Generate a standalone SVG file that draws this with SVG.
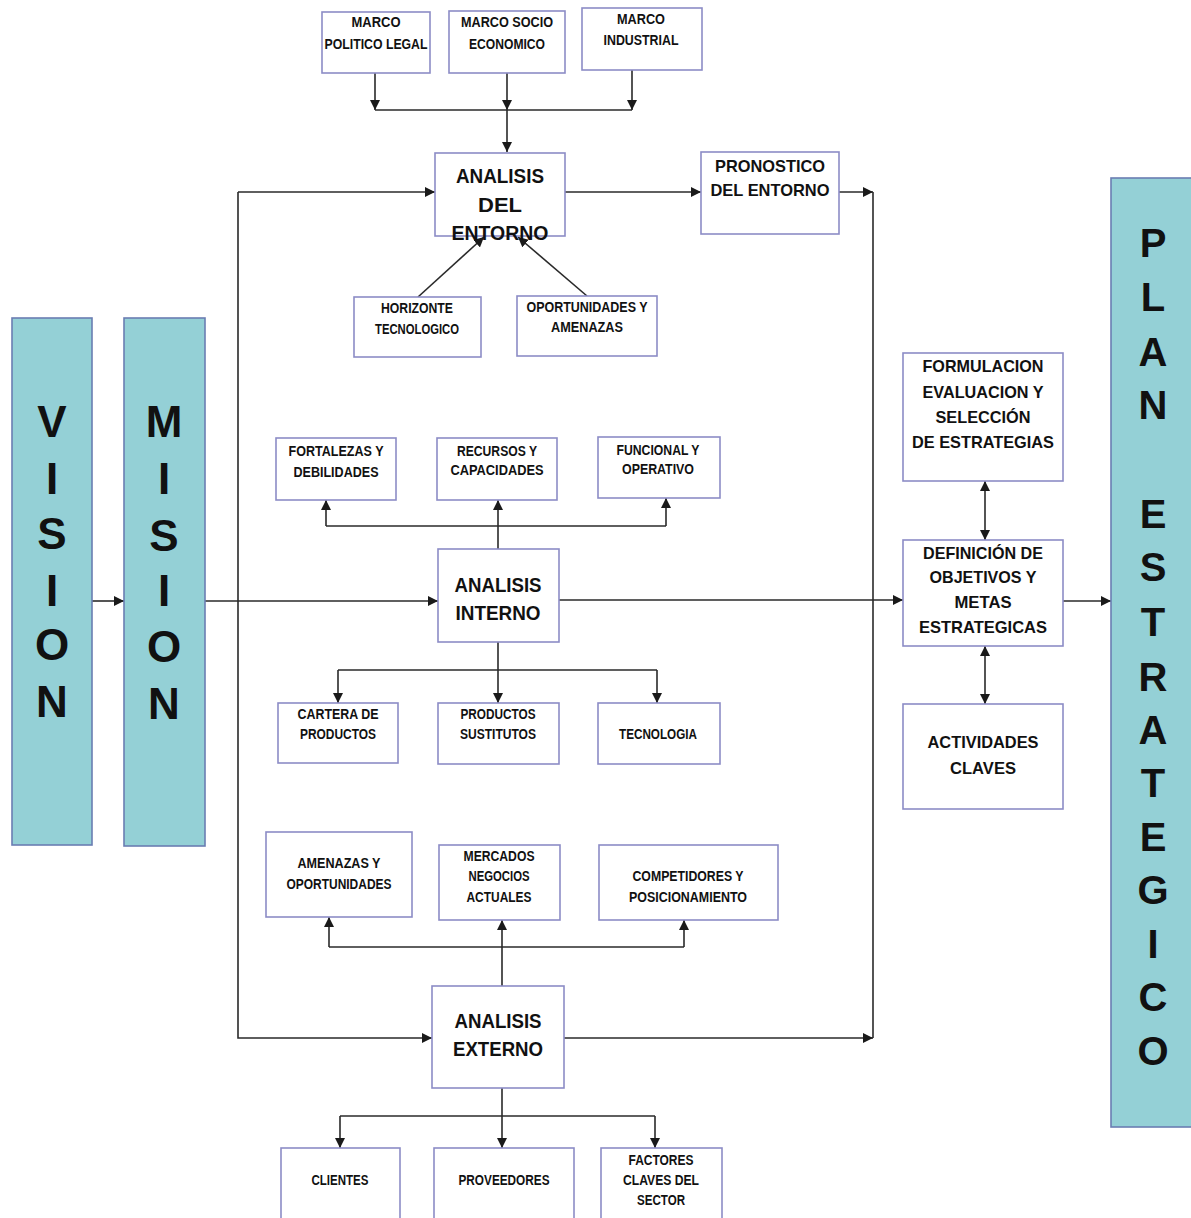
<svg xmlns="http://www.w3.org/2000/svg" width="1191" height="1218" viewBox="0 0 1191 1218">
<style>
.box{fill:#fff;stroke:#8c8cc6;stroke-width:1.6}
.col{fill:#94d0d6;stroke:#6a7db2;stroke-width:1.6}
text{font-family:"Liberation Sans",Arial,sans-serif;font-weight:bold;fill:#111;text-anchor:middle}
.sm{font-size:14px}
.md{font-size:17px}
.lg{font-size:21px}
.vl{font-size:44px}
.pl{font-size:40px}
.cn{fill:none;stroke:#2a2a2a;stroke-width:1.6}
</style>
<defs>
<marker id="ah" markerUnits="userSpaceOnUse" markerWidth="10" markerHeight="10" viewBox="0 0 10 10" refX="10" refY="5" orient="auto-start-reverse">
<path d="M0,0 L10,5 L0,10 z" fill="#1a1a1a"/>
</marker>
</defs>
<rect width="1191" height="1218" fill="#fff"/>

<g id="connectors">
<path class="cn" d="M375,73 V110" marker-end="url(#ah)"/>
<path class="cn" d="M632,70 V110" marker-end="url(#ah)"/>
<path class="cn" d="M507,73 V110" marker-end="url(#ah)"/>
<path class="cn" d="M375,110 H632"/>
<path class="cn" d="M507,110 V152" marker-end="url(#ah)"/>
<path class="cn" d="M238,192 H435" marker-end="url(#ah)"/>
<path class="cn" d="M238,192 V1038 H432" marker-end="url(#ah)"/>
<path class="cn" d="M92,601 H124" marker-end="url(#ah)"/>
<path class="cn" d="M205,601 H438" marker-end="url(#ah)"/>
<path class="cn" d="M565,192 H701" marker-end="url(#ah)"/>
<path class="cn" d="M839,192 H873" marker-end="url(#ah)"/>
<path class="cn" d="M873,192 V1038"/>
<path class="cn" d="M564,1038 H873" marker-end="url(#ah)"/>
<path class="cn" d="M559,600 H903" marker-end="url(#ah)"/>
<path class="cn" d="M418,297 L484,237" marker-end="url(#ah)"/>
<path class="cn" d="M587,296 L518,237" marker-end="url(#ah)"/>
<path class="cn" d="M498,549 V526"/>
<path class="cn" d="M326,526 H666"/>
<path class="cn" d="M326,526 V500" marker-end="url(#ah)"/>
<path class="cn" d="M498,526 V500" marker-end="url(#ah)"/>
<path class="cn" d="M666,526 V498" marker-end="url(#ah)"/>
<path class="cn" d="M498,642 V670"/>
<path class="cn" d="M338,670 H657"/>
<path class="cn" d="M338,670 V703" marker-end="url(#ah)"/>
<path class="cn" d="M498,670 V703" marker-end="url(#ah)"/>
<path class="cn" d="M657,670 V703" marker-end="url(#ah)"/>
<path class="cn" d="M502,986 V947"/>
<path class="cn" d="M329,947 H684"/>
<path class="cn" d="M329,947 V917" marker-end="url(#ah)"/>
<path class="cn" d="M502,947 V920" marker-end="url(#ah)"/>
<path class="cn" d="M684,947 V920" marker-end="url(#ah)"/>
<path class="cn" d="M502,1088 V1116"/>
<path class="cn" d="M340,1116 H655"/>
<path class="cn" d="M340,1116 V1148" marker-end="url(#ah)"/>
<path class="cn" d="M502,1116 V1148" marker-end="url(#ah)"/>
<path class="cn" d="M655,1116 V1148" marker-end="url(#ah)"/>
<path class="cn" d="M985,481 V540" marker-start="url(#ah)" marker-end="url(#ah)"/>
<path class="cn" d="M985,646 V704" marker-start="url(#ah)" marker-end="url(#ah)"/>
<path class="cn" d="M1063,601 H1111" marker-end="url(#ah)"/>
</g>

<g id="marco-politico">
<rect class="box" x="322" y="12" width="108" height="61"/>
<text class="sm" x="376" y="27" textLength="49" lengthAdjust="spacingAndGlyphs">MARCO</text>
<text class="sm" x="376" y="49" textLength="103" lengthAdjust="spacingAndGlyphs">POLITICO LEGAL</text>
</g>
<g id="marco-socio">
<rect class="box" x="449" y="11" width="116" height="62"/>
<text class="sm" x="507" y="27" textLength="92" lengthAdjust="spacingAndGlyphs">MARCO SOCIO</text>
<text class="sm" x="507" y="49" textLength="76" lengthAdjust="spacingAndGlyphs">ECONOMICO</text>
</g>
<g id="marco-industrial">
<rect class="box" x="582" y="8" width="120" height="62"/>
<text class="sm" x="641" y="24" textLength="48" lengthAdjust="spacingAndGlyphs">MARCO</text>
<text class="sm" x="641" y="45" textLength="75" lengthAdjust="spacingAndGlyphs">INDUSTRIAL</text>
</g>
<g id="analisis-entorno">
<rect class="box" x="435" y="153" width="130" height="83"/>
<text class="lg" x="500" y="183" textLength="88" lengthAdjust="spacingAndGlyphs">ANALISIS</text>
<text class="lg" x="500" y="212" textLength="44" lengthAdjust="spacingAndGlyphs">DEL</text>
<text class="lg" x="500" y="240" textLength="97" lengthAdjust="spacingAndGlyphs">ENTORNO</text>
</g>
<g id="pronostico">
<rect class="box" x="701" y="152" width="138" height="82"/>
<text class="md" x="770" y="172" textLength="110" lengthAdjust="spacingAndGlyphs">PRONOSTICO</text>
<text class="md" x="770" y="196" textLength="119" lengthAdjust="spacingAndGlyphs">DEL ENTORNO</text>
</g>
<g id="horizonte">
<rect class="box" x="354" y="297" width="127" height="60"/>
<text class="sm" x="417" y="313" textLength="72" lengthAdjust="spacingAndGlyphs">HORIZONTE</text>
<text class="sm" x="417" y="334" textLength="84" lengthAdjust="spacingAndGlyphs">TECNOLOGICO</text>
</g>
<g id="oportunidades-amenazas">
<rect class="box" x="517" y="296" width="140" height="60"/>
<text class="sm" x="587" y="312" textLength="121" lengthAdjust="spacingAndGlyphs">OPORTUNIDADES Y</text>
<text class="sm" x="587" y="332" textLength="72" lengthAdjust="spacingAndGlyphs">AMENAZAS</text>
</g>
<g id="fortalezas">
<rect class="box" x="276" y="438" width="120" height="62"/>
<text class="sm" x="336" y="456" textLength="95" lengthAdjust="spacingAndGlyphs">FORTALEZAS Y</text>
<text class="sm" x="336" y="477" textLength="85" lengthAdjust="spacingAndGlyphs">DEBILIDADES</text>
</g>
<g id="recursos">
<rect class="box" x="437" y="438" width="120" height="62"/>
<text class="sm" x="497" y="456" textLength="80" lengthAdjust="spacingAndGlyphs">RECURSOS Y</text>
<text class="sm" x="497" y="475" textLength="93" lengthAdjust="spacingAndGlyphs">CAPACIDADES</text>
</g>
<g id="funcional">
<rect class="box" x="598" y="437" width="122" height="61"/>
<text class="sm" x="658" y="455" textLength="83" lengthAdjust="spacingAndGlyphs">FUNCIONAL Y</text>
<text class="sm" x="658" y="474" textLength="72" lengthAdjust="spacingAndGlyphs">OPERATIVO</text>
</g>
<g id="analisis-interno">
<rect class="box" x="438" y="549" width="121" height="93"/>
<text class="lg" x="498" y="592" textLength="87" lengthAdjust="spacingAndGlyphs">ANALISIS</text>
<text class="lg" x="498" y="620" textLength="85" lengthAdjust="spacingAndGlyphs">INTERNO</text>
</g>
<g id="cartera">
<rect class="box" x="278" y="703" width="120" height="60"/>
<text class="sm" x="338" y="719" textLength="81" lengthAdjust="spacingAndGlyphs">CARTERA DE</text>
<text class="sm" x="338" y="739" textLength="76" lengthAdjust="spacingAndGlyphs">PRODUCTOS</text>
</g>
<g id="sustitutos">
<rect class="box" x="438" y="703" width="121" height="61"/>
<text class="sm" x="498" y="719" textLength="75" lengthAdjust="spacingAndGlyphs">PRODUCTOS</text>
<text class="sm" x="498" y="739" textLength="76" lengthAdjust="spacingAndGlyphs">SUSTITUTOS</text>
</g>
<g id="tecnologia">
<rect class="box" x="598" y="703" width="122" height="61"/>
<text class="sm" x="658" y="739" textLength="78" lengthAdjust="spacingAndGlyphs">TECNOLOGIA</text>
</g>
<g id="amenazas-oportunidades">
<rect class="box" x="266" y="832" width="146" height="85"/>
<text class="sm" x="339" y="868" textLength="83" lengthAdjust="spacingAndGlyphs">AMENAZAS Y</text>
<text class="sm" x="339" y="889" textLength="105" lengthAdjust="spacingAndGlyphs">OPORTUNIDADES</text>
</g>
<g id="mercados">
<rect class="box" x="439" y="845" width="121" height="75"/>
<text class="sm" x="499" y="861" textLength="71" lengthAdjust="spacingAndGlyphs">MERCADOS</text>
<text class="sm" x="499" y="881" textLength="61" lengthAdjust="spacingAndGlyphs">NEGOCIOS</text>
<text class="sm" x="499" y="902" textLength="65" lengthAdjust="spacingAndGlyphs">ACTUALES</text>
</g>
<g id="competidores">
<rect class="box" x="599" y="845" width="179" height="75"/>
<text class="sm" x="688" y="881" textLength="111" lengthAdjust="spacingAndGlyphs">COMPETIDORES Y</text>
<text class="sm" x="688" y="902" textLength="118" lengthAdjust="spacingAndGlyphs">POSICIONAMIENTO</text>
</g>
<g id="analisis-externo">
<rect class="box" x="432" y="986" width="132" height="102"/>
<text class="lg" x="498" y="1028" textLength="87" lengthAdjust="spacingAndGlyphs">ANALISIS</text>
<text class="lg" x="498" y="1056" textLength="90" lengthAdjust="spacingAndGlyphs">EXTERNO</text>
</g>
<g id="clientes">
<rect class="box" x="281" y="1148" width="119" height="75"/>
<text class="sm" x="340" y="1185" textLength="57" lengthAdjust="spacingAndGlyphs">CLIENTES</text>
</g>
<g id="proveedores">
<rect class="box" x="434" y="1148" width="140" height="75"/>
<text class="sm" x="504" y="1185" textLength="91" lengthAdjust="spacingAndGlyphs">PROVEEDORES</text>
</g>
<g id="factores">
<rect class="box" x="601" y="1148" width="121" height="75"/>
<text class="sm" x="661" y="1165" textLength="65" lengthAdjust="spacingAndGlyphs">FACTORES</text>
<text class="sm" x="661" y="1185" textLength="76" lengthAdjust="spacingAndGlyphs">CLAVES DEL</text>
<text class="sm" x="661" y="1205" textLength="48" lengthAdjust="spacingAndGlyphs">SECTOR</text>
</g>
<g id="formulacion">
<rect class="box" x="903" y="353" width="160" height="128"/>
<text class="md" x="983" y="372" textLength="121" lengthAdjust="spacingAndGlyphs">FORMULACION</text>
<text class="md" x="983" y="398" textLength="121" lengthAdjust="spacingAndGlyphs">EVALUACION Y</text>
<text class="md" x="983" y="423" textLength="95" lengthAdjust="spacingAndGlyphs">SELECCIÓN</text>
<text class="md" x="983" y="448" textLength="142" lengthAdjust="spacingAndGlyphs">DE ESTRATEGIAS</text>
</g>
<g id="definicion">
<rect class="box" x="903" y="540" width="160" height="106"/>
<text class="md" x="983" y="559" textLength="120" lengthAdjust="spacingAndGlyphs">DEFINICIÓN DE</text>
<text class="md" x="983" y="583" textLength="107" lengthAdjust="spacingAndGlyphs">OBJETIVOS Y</text>
<text class="md" x="983" y="608" textLength="57" lengthAdjust="spacingAndGlyphs">METAS</text>
<text class="md" x="983" y="633" textLength="128" lengthAdjust="spacingAndGlyphs">ESTRATEGICAS</text>
</g>
<g id="actividades">
<rect class="box" x="903" y="704" width="160" height="105"/>
<text class="md" x="983" y="748" textLength="111" lengthAdjust="spacingAndGlyphs">ACTIVIDADES</text>
<text class="md" x="983" y="774" textLength="66" lengthAdjust="spacingAndGlyphs">CLAVES</text>
</g>
<g id="vision">
<rect class="col" x="12" y="318" width="80" height="527"/>
<text class="vl" x="52" y="437">V</text>
<text class="vl" x="52" y="494">I</text>
<text class="vl" x="52" y="549">S</text>
<text class="vl" x="52" y="606">I</text>
<text class="vl" x="52" y="660">O</text>
<text class="vl" x="52" y="717">N</text>
</g>
<g id="mision">
<rect class="col" x="124" y="318" width="81" height="528"/>
<text class="vl" x="164" y="437">M</text>
<text class="vl" x="164" y="494">I</text>
<text class="vl" x="164" y="551">S</text>
<text class="vl" x="164" y="606">I</text>
<text class="vl" x="164" y="662">O</text>
<text class="vl" x="164" y="719">N</text>
</g>
<g id="plan-estrategico">
<rect class="col" x="1111" y="178" width="86" height="949"/>
<text class="pl" x="1153" y="257">P</text>
<text class="pl" x="1153" y="311">L</text>
<text class="pl" x="1153" y="366">A</text>
<text class="pl" x="1153" y="419">N</text>
<text class="pl" x="1153" y="528">E</text>
<text class="pl" x="1153" y="581">S</text>
<text class="pl" x="1153" y="636">T</text>
<text class="pl" x="1153" y="691">R</text>
<text class="pl" x="1153" y="744">A</text>
<text class="pl" x="1153" y="797">T</text>
<text class="pl" x="1153" y="851">E</text>
<text class="pl" x="1153" y="904">G</text>
<text class="pl" x="1153" y="958">I</text>
<text class="pl" x="1153" y="1011">C</text>
<text class="pl" x="1153" y="1065">O</text>
</g>
</svg>
